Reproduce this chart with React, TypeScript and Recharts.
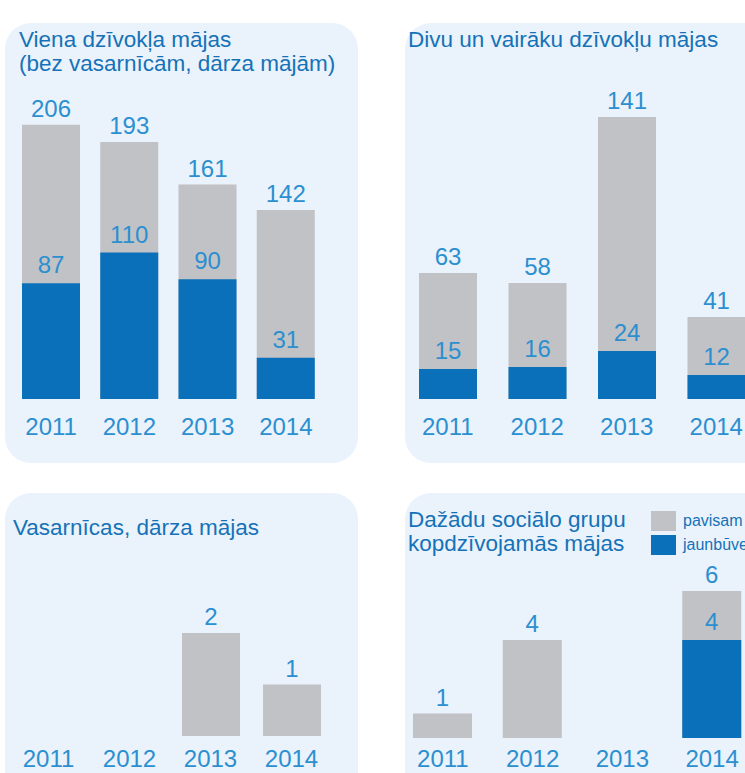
import React from 'react';
import { BarChart, Bar, XAxis, YAxis, LabelList, Legend } from 'recharts';

const years = ['2011', '2012', '2013', '2014'];
const singleTotal = [206, 193, 161, 142];
const singleNew = [87, 110, 90, 31];
const multiTotal = [63, 58, 141, 41];
const multiNew = [15, 16, 24, 12];
const summerTotal = [null, null, 2, 1];
const summerNew = [null, null, null, null];
const socialTotal = [1, 4, null, 6];
const socialNew = [null, null, null, 4];

const totalName = 'pavisam';
const newName = 'jaunbūves';
const legendOrder = [totalName, newName];

const titleSingle = ['Viena dzīvokļa mājas', '(bez vasarnīcām, dārza mājām)'];
const titleMulti = ['Divu un vairāku dzīvokļu mājas'];
const titleSummer = ['Vasarnīcas, dārza mājas'];
const titleSocial = ['Dažādu sociālo grupu', 'kopdzīvojamās mājas'];

const GRAY = '#c1c2c5';
const BLUE = '#0a70b9';
const BG = '#eaf2fb';
const LABEL = '#2b8fd0';
const TITLE = '#1572b8';
const FONT = '"Liberation Sans", Arial, Helvetica, sans-serif';

function build(total: (number | null)[], fresh: (number | null)[]) {
  return years.map((y, i) => ({ year: y, total: total[i], fresh: fresh[i] }));
}

const fmt = (v: any) => (v == null ? '' : v);

const makeTick = (dy: number) => (props: any) => {
  const { x, y, payload } = props;
  return (
    <text x={x} y={y + dy} textAnchor="middle" fill={LABEL} fontSize={24} fontFamily={FONT}>
      {payload.value}
    </text>
  );
};

const LegendBox = (props: any) => {
  const payload = [...(props.payload || [])].sort(
    (a: any, b: any) => legendOrder.indexOf(a.value) - legendOrder.indexOf(b.value)
  );
  return (
    <div style={{ fontFamily: FONT }}>
      {payload.map((p: any) => (
        <div key={p.value} style={{ display: 'flex', alignItems: 'center', height: 24, whiteSpace: 'nowrap' }}>
          <span style={{ width: 25, height: 20, background: p.color, display: 'inline-block' }} />
          <span style={{ marginLeft: 7, fontSize: 16, color: TITLE }}>{p.value}</span>
        </div>
      ))}
    </div>
  );
};

type ChartProps = {
  data: any[];
  domain: [number, number];
  left: number;
  top: number;
  width: number;
  height: number;
  margin: { top: number; left: number; right: number; bottom: number };
  barSize: number;
  tickDy: number;
  legend?: boolean;
};

function Chart({ data, domain, left, top, width, height, margin, barSize, tickDy, legend }: ChartProps) {
  const TickComp = makeTick(tickDy);
  return (
    <div style={{ position: 'absolute', left, top, width, height }}>
      <BarChart width={width} height={height} data={data} margin={margin} barSize={barSize} barGap={-barSize}>
        <XAxis
          dataKey="year"
          axisLine={false}
          tickLine={false}
          tickSize={0}
          tickMargin={0}
          height={61}
          interval={0}
          tick={(p: any) => <TickComp {...p} />}
        />
        <YAxis hide domain={domain} type="number" />
        {legend && (
          <Legend
            layout="vertical"
            align="center"
            verticalAlign="middle"
            content={(p: any) => <LegendBox {...p} />}
            wrapperStyle={{ left: 261, top: 29, width: 200, height: 48 }}
          />
        )}
        <Bar dataKey="total" name={totalName} fill={GRAY} isAnimationActive={false}>
          <LabelList dataKey="total" position="top" offset={8} fill={LABEL} fontSize={24} fontFamily={FONT} formatter={fmt} />
        </Bar>
        <Bar dataKey="fresh" name={newName} fill={BLUE} isAnimationActive={false}>
          <LabelList dataKey="fresh" position="top" offset={10} fill={LABEL} fontSize={24} fontFamily={FONT} formatter={fmt} />
        </Bar>
      </BarChart>
    </div>
  );
}

const panelStyle = (left: number, top: number, width: number, height: number): React.CSSProperties => ({
  position: 'absolute',
  left,
  top,
  width,
  height,
  background: BG,
  borderRadius: 26,
});

function Title({ lines, left, top }: { lines: string[]; left: number; top: number }) {
  return (
    <div
      style={{
        position: 'absolute',
        left,
        top,
        fontFamily: FONT,
        fontSize: 22.5,
        lineHeight: '24px',
        color: TITLE,
        whiteSpace: 'nowrap',
      }}
    >
      {lines.map((l) => (
        <div key={l}>{l}</div>
      ))}
    </div>
  );
}

export default function App() {
  return (
    <div
      style={{
        position: 'absolute',
        left: 0,
        top: 0,
        width: 745,
        height: 773,
        overflow: 'hidden',
        background: '#ffffff',
        fontFamily: FONT,
      }}
    >
      <div style={panelStyle(5, 23, 353, 440)} />
      <div style={panelStyle(405, 23, 370, 440)} />
      <div style={panelStyle(5, 493, 353, 330)} />
      <div style={panelStyle(405, 493, 370, 330)} />

      <Chart
        data={build(singleTotal, singleNew)}
        domain={[0, 220]}
        left={0}
        top={0}
        width={358}
        height={460}
        margin={{ top: 106, left: 12, right: 33, bottom: 0 }}
        barSize={58}
        tickDy={36}
      />
      <Chart
        data={build(multiTotal, multiNew)}
        domain={[0, 160]}
        left={400}
        top={0}
        width={370}
        height={460}
        margin={{ top: 79, left: 3, right: 9, bottom: 0 }}
        barSize={58}
        tickDy={36}
      />
      <Chart
        data={build(summerTotal, summerNew)}
        domain={[0, 2]}
        left={0}
        top={480}
        width={358}
        height={317}
        margin={{ top: 153, left: 8, right: 26, bottom: 0 }}
        barSize={58}
        tickDy={31}
      />
      <Chart
        data={build(socialTotal, socialNew)}
        domain={[0, 8]}
        left={390}
        top={480}
        width={380}
        height={319}
        margin={{ top: 62, left: 8, right: 13, bottom: 0 }}
        barSize={59}
        tickDy={29}
        legend
      />

      <Title lines={titleSingle} left={19} top={28} />
      <Title lines={titleMulti} left={408} top={28} />
      <Title lines={titleSummer} left={13} top={516} />
      <Title lines={titleSocial} left={408} top={508} />
    </div>
  );
}
